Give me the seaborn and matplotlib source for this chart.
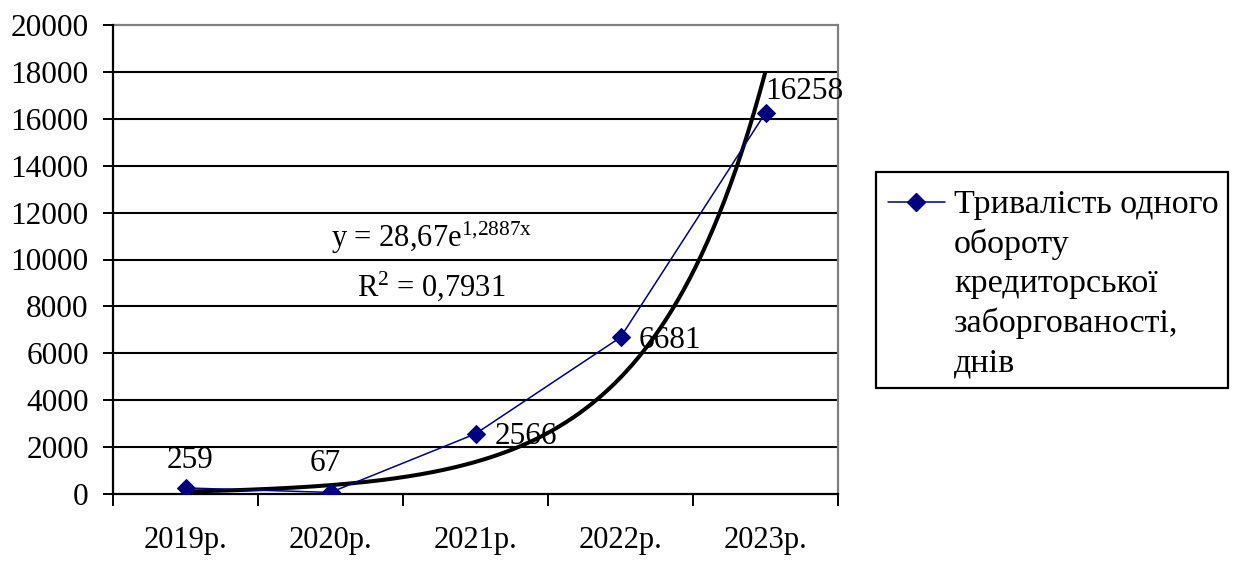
import numpy as np
import pandas as pd
import matplotlib
matplotlib.use("Agg")
import matplotlib.pyplot as plt
from matplotlib.lines import Line2D
from matplotlib.patches import Rectangle
from matplotlib.ticker import FixedLocator, MultipleLocator
import seaborn as sns

# Data
years = ["2019р.", "2020р.", "2021р.", "2022р.", "2023р."]
duration_days = [259, 67, 2566, 6681, 16258]
series_label = "Тривалість одного\nобороту\nкредиторської\nзаборгованості,\nднів"

# Exponential trend y = a * exp(b * x), x = 1..n
trend_a = 28.67
trend_b = 1.2887
trend_eq = "y = 28,67e$^{\\mathrm{1{,}2887x}}$"
trend_r2 = "R$^{\\mathrm{2}}$ = 0,7931"

W, H = 1234, 562

sns.set_theme(style="white")
plt.rcParams["font.family"] = ["Liberation Serif", "DejaVu Serif"]
plt.rcParams["mathtext.fontset"] = "custom"
plt.rcParams["mathtext.rm"] = "Liberation Serif"
plt.rcParams["mathtext.it"] = "Liberation Serif:italic"

fig = plt.figure(figsize=(W / 100, H / 100), dpi=100)
fig.patch.set_facecolor("white")

def fx(px):
    return px / W

def fy(py):
    return 1 - py / H

ax_l, ax_r, ax_t, ax_b = 113, 838, 25, 494
ax = fig.add_axes([fx(ax_l), fy(ax_b), fx(ax_r - ax_l), (ax_b - ax_t) / H])
ax.set_facecolor("white")

df = pd.DataFrame({"year": years, "days": duration_days})
df["pos"] = np.arange(len(years))

# Trend line
xt = np.linspace(1, len(years), 300)
yt = trend_a * np.exp(trend_b * xt)
ax.plot(xt - 1, yt, color="black", lw=2.9, zorder=3, solid_capstyle="butt")

# Data series
sns.lineplot(data=df, x="pos", y="days", marker="D", color="#000080",
             markersize=9, markeredgecolor="#000080", linewidth=1.1,
             ax=ax, zorder=4, legend=False)

ax.set_xlim(-0.5, len(years) - 0.5)
ax.set_ylim(0, 20000)
ax.yaxis.set_major_locator(MultipleLocator(2000))
ax.xaxis.set_major_locator(FixedLocator(np.arange(len(years) + 1) - 0.5))
ax.xaxis.set_minor_locator(FixedLocator(np.arange(len(years))))
ax.set_xticklabels([], minor=False)
ax.set_xticklabels(years, minor=True)
ax.set_xlabel("")
ax.set_ylabel("")

ax.tick_params(axis="x", which="major", length=8.5, width=1.4, color="black",
               direction="out", bottom=True)
ax.tick_params(axis="x", which="minor", length=0, pad=23, labelsize=22,
               bottom=True)
ax.tick_params(axis="y", which="major", length=7.5, width=1.4, color="black",
               direction="out", left=True, pad=10, labelsize=22.5)
for lab in ax.get_xticklabels(minor=True) + ax.get_yticklabels():
    lab.set_color("black")

# Horizontal grid
for v in np.arange(2000, 20000, 2000):
    ax.axhline(v, color="black", lw=1.5, zorder=1)
ax.axhline(20000, color="#808080", lw=1.6, zorder=1, clip_on=False)

for side in ["left", "bottom"]:
    ax.spines[side].set_color("black")
    ax.spines[side].set_linewidth(1.6)
ax.spines["right"].set_color("#808080")
ax.spines["right"].set_linewidth(1.6)
ax.spines["top"].set_visible(False)

# Value labels
offsets = [(3, 20, "center"), (-4, 21, "center"), (14, -2, "left"),
           (13, -2, "left"), (0, 15, "left")]
for i, (v, (dx, dy, ha)) in enumerate(zip(duration_days, offsets)):
    ax.annotate(str(v), (i, v), xytext=(dx, dy), textcoords="offset points",
                ha=ha, va="center", fontsize=22.5, color="black", zorder=5)

# Trend equation
fig.text(fx(432), fy(238), trend_eq, ha="center", va="center", fontsize=22,
         color="black")
fig.text(fx(431), fy(286), trend_r2, ha="center", va="center", fontsize=22,
         color="black")

# Legend box
box = Rectangle((fx(876), fy(388)), fx(1228 - 876), (388 - 172) / H,
                transform=fig.transFigure, fill=False, edgecolor="black",
                lw=1.6)
fig.add_artist(box)
fig.add_artist(Line2D([fx(888), fx(945)], [fy(202), fy(202)],
                      transform=fig.transFigure, color="#000080", lw=1.1))
fig.add_artist(Line2D([fx(916)], [fy(202)], transform=fig.transFigure,
                      marker="D", markersize=9, color="#000080", lw=0))
fig.text(fx(954), fy(189), series_label, ha="left", va="top", fontsize=24.5,
         linespacing=1.36, color="black")

fig.savefig("out.png", dpi=100, facecolor="white")
